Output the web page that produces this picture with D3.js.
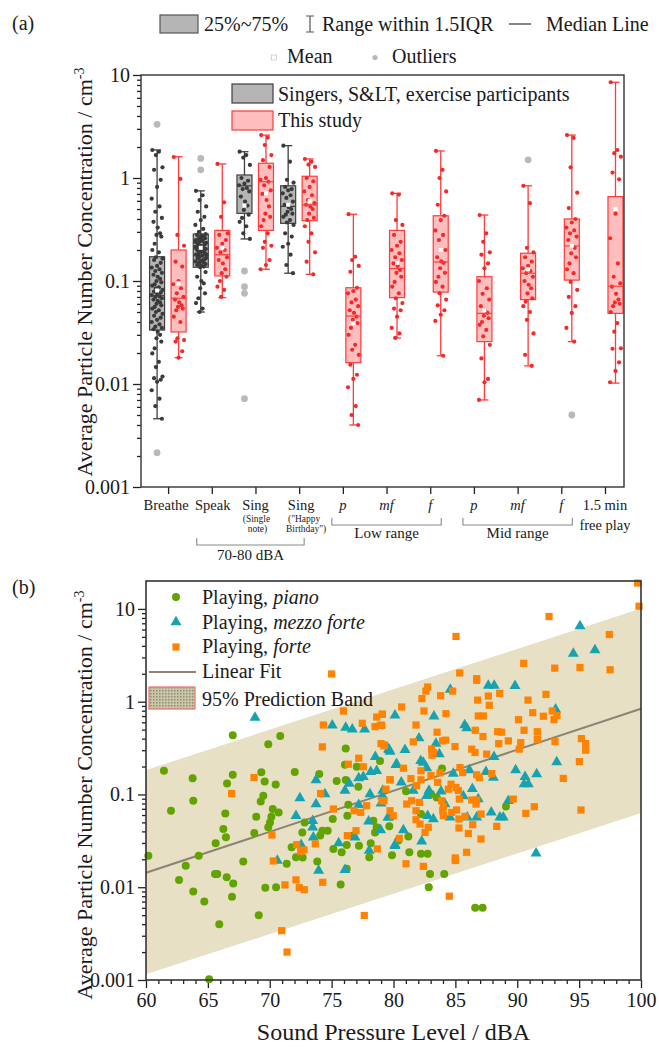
<!DOCTYPE html>
<html><head><meta charset="utf-8">
<script src="https://cdn.jsdelivr.net/npm/d3@7"></script>
<style>
body{margin:0;background:#fff}
svg{display:block}
text{font-family:"Liberation Serif","Times New Roman",serif;fill:#1a1a1a}
</style>
</head><body>
<svg id="c" width="659" height="1049"></svg>
<script>
// ---------------- DATA: panel (a) ----------------
const catLabels = ["Breathe","Speak","Sing","Sing","p","mf","f","p","mf","f","1.5 min"];
const catSub1 = ["","","(Single","(\"Happy","","","","","","","free play"];
const catSub2 = ["","","note)","Birthday\")","","","","","","",""];
const groupLabels = ["70-80 dBA","Low range","Mid range"];
const groupFrom = [2,5,8];
const groupTo = [4,7,10];
const yTicksA = [0.001,0.01,0.1,1,10];
const yTickLabelsA = ["0.001","0.01","0.1","1","10"];

// grey series (Singers, S&LT, exercise participants) – categories 1..4
const greyLow  = [0.0046,0.05,0.256,0.119];
const greyQ1   = [0.0334,0.136,0.454,0.363];
const greyMed  = [0.072,0.205,0.84,0.53];
const greyQ3   = [0.172,0.286,1.07,0.84];
const greyHigh = [1.87,0.75,1.8,2.06];
const greyMean = [0.081,0.21,0.54,0.55];
// red series (This study) – categories 1..11
const redLow  = [0.018,0.069,0.13,0.116,0.004,0.028,0.0188,0.007,0.015,0.0258,0.0102];
const redQ1   = [0.032,0.112,0.31,0.385,0.0161,0.069,0.078,0.0258,0.066,0.102,0.0485];
const redMed  = [0.068,0.18,0.92,0.547,0.0457,0.132,0.153,0.0485,0.119,0.219,0.089];
const redQ3   = [0.2,0.31,1.39,1.04,0.086,0.31,0.43,0.11,0.186,0.40,0.66];
const redHigh = [1.61,1.37,2.61,1.53,0.445,0.71,1.83,0.437,0.84,2.61,8.5];
const redMean = [0.095,0.21,0.71,0.6,0.039,0.15,0.2,0.052,0.13,0.22,0.5];

const outlierCat = [1,1,2,2,3,3,3,3,9,10];
const outlierVal = [3.32,0.00215,1.55,1.2,0.125,0.088,0.076,0.0072,1.5,0.005];

const breatheGrey = [1.87,1.8,1.67,1.27,1.2,0.96,0.82,0.63,0.53,0.47,0.41,0.375,0.33,0.29,0.28,0.27,0.23,0.2,0.19,0.17,0.165,0.16,0.15,0.14,0.135,0.13,0.125,0.12,0.115,0.11,0.105,0.1,0.097,0.093,0.09,0.087,0.085,0.082,0.079,0.077,0.075,0.073,0.071,0.07,0.068,0.066,0.064,0.062,0.06,0.058,0.056,0.054,0.052,0.05,0.048,0.046,0.044,0.042,0.04,0.038,0.036,0.035,0.034,0.0322,0.03,0.0278,0.0258,0.0222,0.0198,0.0164,0.0146,0.0118,0.0114,0.011,0.0105,0.0087,0.0072,0.0061,0.0046];
const speakGrey = [0.75,0.68,0.61,0.53,0.47,0.42,0.39,0.35,0.32,0.3,0.285,0.28,0.275,0.27,0.265,0.26,0.255,0.25,0.245,0.24,0.235,0.23,0.225,0.22,0.215,0.21,0.207,0.205,0.2,0.197,0.193,0.19,0.186,0.183,0.18,0.176,0.172,0.168,0.165,0.161,0.158,0.155,0.152,0.149,0.146,0.143,0.14,0.138,0.136,0.23,0.22,0.21,0.2,0.19,0.18,0.17,0.26,0.25,0.24,0.16,0.15,0.122,0.11,0.1,0.095,0.085,0.076,0.068,0.061,0.054,0.05];
const singGrey = [1.8,1.67,1.58,1.34,1.0,0.94,0.88,0.85,0.8,0.78,0.74,0.66,0.59,0.54,0.49,0.44,0.41,0.375,0.34,0.29,0.256];
const bdayGrey = [2.06,1.44,0.96,0.9,0.82,0.78,0.76,0.71,0.68,0.64,0.59,0.55,0.52,0.5,0.47,0.45,0.44,0.42,0.39,0.37,0.35,0.29,0.27,0.23,0.215,0.18,0.143,0.119];

const breatheRed = [1.6,0.98,0.28,0.22,0.154,0.138,0.1,0.093,0.085,0.076,0.07,0.066,0.062,0.058,0.056,0.054,0.052,0.045,0.04,0.0278,0.0267,0.0258,0.0208,0.018];
const speakRed = [1.37,0.58,0.42,0.29,0.28,0.25,0.23,0.21,0.2,0.19,0.17,0.16,0.148,0.13,0.119,0.11,0.1,0.088,0.082,0.07];
const singRed = [2.61,2.47,2.09,1.67,1.49,1.28,1.0,0.96,0.92,0.85,0.76,0.7,0.61,0.53,0.45,0.42,0.39,0.34,0.29,0.24,0.22,0.21,0.16,0.143,0.13];
const bdayRed = [1.53,1.44,1.35,1.28,1.0,0.93,0.82,0.74,0.68,0.61,0.57,0.55,0.53,0.5,0.45,0.41,0.39,0.34,0.29,0.24,0.19,0.154,0.116];
const lowPRed = [0.445,0.172,0.16,0.14,0.123,0.086,0.08,0.076,0.066,0.062,0.057,0.052,0.049,0.045,0.042,0.039,0.035,0.03,0.024,0.0215,0.0192,0.0154,0.0123,0.0112,0.0093,0.0061,0.005,0.004];
const lowMfRed = [0.71,0.69,0.39,0.35,0.28,0.24,0.22,0.2,0.186,0.17,0.16,0.148,0.14,0.128,0.12,0.11,0.098,0.088,0.076,0.068,0.061,0.054,0.052,0.045,0.035,0.031,0.028];
const lowFRed = [1.83,1.2,1.0,0.74,0.55,0.43,0.39,0.31,0.28,0.25,0.2,0.17,0.155,0.15,0.133,0.12,0.11,0.098,0.088,0.076,0.066,0.058,0.052,0.047,0.041,0.0188];
const midPRed = [0.437,0.29,0.24,0.19,0.18,0.148,0.133,0.1,0.085,0.075,0.066,0.057,0.052,0.049,0.046,0.0435,0.04,0.0375,0.0335,0.029,0.024,0.0177,0.0112,0.0104,0.007];
const midMfRed = [0.84,0.57,0.21,0.19,0.17,0.154,0.14,0.133,0.125,0.119,0.11,0.1,0.092,0.085,0.076,0.068,0.063,0.057,0.05,0.042,0.031,0.0192,0.015];
const midFRed = [2.61,2.45,1.27,0.72,0.51,0.4,0.37,0.33,0.31,0.29,0.27,0.25,0.22,0.21,0.186,0.17,0.148,0.13,0.119,0.098,0.082,0.07,0.057,0.049,0.035,0.0258];
const freeRed = [8.5,1.87,1.74,1.61,1.13,0.97,0.45,0.26,0.148,0.11,0.095,0.088,0.075,0.066,0.062,0.06,0.057,0.05,0.039,0.0322,0.0222,0.022,0.0162,0.0134,0.0104];

// ---------------- DATA: panel (b) ----------------
const xTicksB = [60,65,70,75,80,85,90,95,100];
const yTicksB = [0.001,0.01,0.1,1,10];
const yTickLabelsB = ["0.001","0.01","0.1","1","10"];
const fitX = [60,100];
const fitY = [0.0143,0.84];
const bandLow = [0.00115,0.063];
const bandHigh = [0.183,10.1];

const pianoX = [60.19,61.45,62.02,62.67,63.21,63.77,63.82,63.82,64.26,64.71,65.63,65.58,65.76,65.92,66.25,66.41,66.46,66.52,66.55,66.95,67.01,67.05,67.01,67.86,68.75,68.91,69.11,69.27,69.32,69.48,69.59,69.64,69.88,69.88,70.02,70.13,70.24,70.48,70.51,70.72,70.85,71.37,71.77,72.02,72.12,72.63,72.82,72.66,73.84,74.0,74.08,74.25,74.68,75.09,75.14,75.41,75.73,75.81,76.14,76.14,76.22,76.22,76.27,76.35,76.75,77.16,77.21,78.04,78.16,78.37,78.51,78.64,78.91,79.66,79.88,77.03,76.08,81.01,83.92,83.03,83.49,82.22,81.2,80.39,81.28,82.22,82.76,82.95,84.1,82.85,86.6,87.2,89.09,65.1];
const pianoY = [0.0219,0.18,0.0668,0.012,0.017,0.15,0.0855,0.009,0.0219,0.007,0.0297,0.0139,0.0139,0.004,0.0425,0.0625,0.0345,0.0128,0.131,0.0079,0.163,0.011,0.435,0.0189,0.0385,0.0575,0.005,0.0841,0.174,0.0968,0.138,0.0099,0.348,0.0442,0.05,0.0575,0.0697,0.128,0.01,0.064,0.428,0.0179,0.0269,0.175,0.021,0.039,0.05,0.0209,0.0189,0.166,0.036,0.0407,0.0407,0.0544,0.0259,0.14,0.0107,0.0238,0.313,0.143,0.0158,0.0286,0.059,0.0775,0.036,0.121,0.028,0.021,0.0297,0.0521,0.039,0.0442,0.23,0.0453,0.0221,0.199,0.209,0.108,0.19,0.101,0.0929,0.0615,0.0353,0.0318,0.0238,0.0229,0.0229,0.0139,0.0139,0.01,0.006,0.006,0.0743,0.00102];

const mfX = [68.81,72.12,72.44,70.61,72.53,73.47,73.74,73.74,73.47,73.95,74.46,73.52,75.05,75.57,76.08,76.08,76.14,76.43,76.67,77.19,77.19,77.67,77.56,77.99,78.1,78.16,78.64,78.53,78.96,79.13,79.61,79.61,80.12,80.12,80.26,78.04,76.89,83.27,84.59,87.66,88.14,89.82,85.75,85.92,82.06,79.64,79.72,80.93,83.43,83.7,80.2,82.2,82.41,82.68,84.83,86.13,87.47,88.07,88.12,89.87,90.63,90.55,90.9,91.57,93.19,93.1,95.07,94.53,96.28,91.52,80.63,81.6,82.87,82.68,83.84,86.37,85.64,86.85,89.28,87.9,88.6,88.87,86.72,85.96,84.56,83.22,82.76,84.16,79.56,80.8,80.12,82.28,78.99,79.13];
const mfY = [0.673,0.059,0.0914,0.0194,0.0286,0.0442,0.0788,0.143,0.0521,0.0151,0.101,0.0345,0.557,0.03,0.0154,0.11,0.525,0.131,0.505,0.15,0.0775,0.505,0.155,0.0513,0.101,0.175,0.18,0.254,0.0414,0.11,0.308,0.0566,0.714,0.0286,0.212,0.0248,0.0345,0.697,1.35,1.49,1.49,1.48,0.561,0.518,0.404,0.303,0.29,0.303,0.353,0.272,0.209,0.23,0.221,0.192,0.168,0.183,0.175,0.152,0.254,0.183,0.155,0.129,0.129,0.166,0.223,0.829,6.52,3.31,3.6,0.0232,0.135,0.11,0.11,0.0968,0.108,0.115,0.0961,0.0892,0.0855,0.064,0.0566,0.0566,0.0566,0.0566,0.0566,0.0544,0.059,0.0788,0.0566,0.0414,0.028,0.0312,0.08,0.096];

const forteX = [66.92,68.73,70.18,70.29,71.23,72.12,72.39,72.79,72.18,72.5,72.77,70.96,73.68,74.11,74.25,74.33,74.28,75.14,75.95,76.27,76.35,76.81,76.97,77.19,77.35,77.48,77.56,77.83,78.51,78.93,78.64,79.09,79.23,79.72,79.07,78.69,77.64,71.4,75.0,
 99.73,99.84,92.57,85.05,97.44,97.5,90.52,93.03,95.07,85.35,86.72,86.72,82.76,82.62,84.78,83.81,82.3,88.58,87.66,86.8,87.74,90.87,92.32,80.66,82.46,84.24,86.85,87.26,91.25,92.11,92.83,93.21,92.97,90.1,79.1,79.05,81.82,83.52,86.61,88.42,88.74,90.55,91.62,91.62,87.23,81.6,79.26,83.97,84.21,84.97,86.32,86.59,88.5,89.28,90.16,90.28,93.05,95.18,95.53,95.53,95.02,83.08,83.22,83.11,87.53,80.8,79.72,81.41,82.22,83.03,83.76,85.37,85.59,86.72,86.93,87.94,93.72,81.87,84.65,85.05,85.24,86.32,86.72,86.67,89.68,85.32,84.03,83.98,84.7,85.1,85.29,85.78,86.4,87.07,88.34,90.69,91.38,95.15,86.05,87.07,85.29,85.91,84.99,84.99,82.41,81.01,84.51,81.82,82.14,82.55,82.81,80.47,79.98,79.72,81.82,84.03,83.89,84.43,83.57,81.47,81.07,82.09,78.99,79.39,79.23,82.22];
const forteY = [0.1025,0.152,0.0366,0.0192,0.0106,0.012,0.0099,0.0094,0.0288,0.0242,0.0252,0.0034,0.0293,0.1025,0.326,0.561,0.0113,0.0697,0.794,0.036,0.212,0.0668,0.0407,0.246,0.064,0.585,0.199,0.0756,0.538,0.557,0.684,0.732,0.334,0.144,0.0855,0.0259,0.00496,0.002,1.99,
 19.0,10.7,8.28,5.05,5.3,2.21,2.59,2.3,2.34,2.04,1.77,1.7,1.44,1.3,1.3,1.16,1.08,1.23,1.15,1.04,0.915,1.04,1.2,0.877,0.794,0.743,0.702,0.702,0.762,0.697,0.794,0.707,0.64,0.64,0.732,0.557,0.561,0.469,0.492,0.475,0.469,0.492,0.475,0.394,0.421,0.369,0.342,0.378,0.385,0.328,0.308,0.283,0.353,0.378,0.308,0.362,0.372,0.4,0.353,0.3,0.226,0.308,0.283,0.265,0.272,0.192,0.144,0.148,0.144,0.16,0.171,0.195,0.172,0.163,0.152,0.168,0.149,0.124,0.129,0.119,0.11,0.087,0.087,0.0788,0.0892,0.0892,0.0738,0.0668,0.064,0.068,0.0544,0.058,0.0472,0.0615,0.0453,0.0625,0.0738,0.068,0.038,0.0331,0.0435,0.0238,0.0207,0.0194,0.0168,0.0179,0.008,0.0534,0.048,0.039,0.0442,0.0336,0.059,0.0668,0.0668,0.059,0.0855,0.114,0.135,0.0855,0.0788,0.082,0.353,0.114,0.0855,0.18];

// ---------------- STYLE ----------------
const GREY_FILL="#b5b5b5", GREY_STROKE="#3f3f3f", GREY_DOT="#3a3a3a";
const RED_FILL="#ffbebe", RED_STROKE="#ff3b3b", RED_DOT="#f42a2a";
const OUT_FILL="#b9b9b9";
const C_PIANO="#62a300", C_MF="#17a2b0", C_FORTE="#ff8300";
const BAND_FILL="#e7e0c5", FIT_COL="#8a8472";
const jit = [-0.8,0.3,-0.2,0.9,-0.5,0.6,0.0,-0.9,0.4,-0.3,0.8,-0.6,0.1,0.5,-0.1,0.7,-0.4];

const svg = d3.select("#c");

// ================= PANEL (a) =================
const A = {l:141, r:624, t:75, b:487};
const ax = d3.scaleLinear().domain([0.38, 11.435]).range([A.l, A.r]);
const ay = d3.scaleLog().domain([0.001, 10]).range([A.b, A.t]);
const gA = svg.append("g");

function minorLog(lo, hi){const m=[];for(let e=lo;e<hi;e++){for(let k=2;k<=9;k++)m.push(k*Math.pow(10,e));}return m;}

// y axis (a)
gA.append("g").attr("transform",`translate(${A.l},0)`)
  .call(d3.axisLeft(ay).tickValues(minorLog(-3,1)).tickFormat("").tickSize(4))
  .call(g=>g.select(".domain").remove());
gA.append("g").attr("transform",`translate(${A.l},0)`)
  .call(d3.axisLeft(ay).tickValues(yTicksA).tickFormat((d,i)=>yTickLabelsA[i]).tickSize(8).tickPadding(3))
  .call(g=>g.select(".domain").remove())
  .call(g=>g.selectAll("text").style("font-size","20px"));
// x axis (a)
gA.append("g").attr("transform",`translate(0,${A.b})`)
  .call(d3.axisBottom(ax).tickValues(d3.range(1,12)).tickFormat("").tickSize(7))
  .call(g=>g.select(".domain").remove());
gA.selectAll(".tick line").attr("stroke","#222").attr("stroke-width",1.3);

const GOFF=-11, ROFF=10.5, BW=15, CAP=8;
function drawBox(g, cx, lo, q1, med, q3, hi, mean, fill, stroke){
  g.append("line").attr("x1",cx).attr("x2",cx).attr("y1",ay(hi)).attr("y2",ay(q3)).attr("stroke",stroke).attr("stroke-width",1.3);
  g.append("line").attr("x1",cx).attr("x2",cx).attr("y1",ay(q1)).attr("y2",ay(lo)).attr("stroke",stroke).attr("stroke-width",1.3);
  g.append("line").attr("x1",cx-CAP/2).attr("x2",cx+CAP/2).attr("y1",ay(hi)).attr("y2",ay(hi)).attr("stroke",stroke).attr("stroke-width",1.3);
  g.append("line").attr("x1",cx-CAP/2).attr("x2",cx+CAP/2).attr("y1",ay(lo)).attr("y2",ay(lo)).attr("stroke",stroke).attr("stroke-width",1.3);
  g.append("rect").attr("x",cx-BW/2).attr("width",BW).attr("y",ay(q3)).attr("height",ay(q1)-ay(q3))
    .attr("fill",fill).attr("stroke",stroke).attr("stroke-width",1.2);
}
function drawDots(g, cx, vals, col){
  g.selectAll(null).data(vals).enter().append("circle")
    .attr("cx",(d,i)=>cx+jit[i%jit.length]*6).attr("cy",d=>ay(d)).attr("r",2.1).attr("fill",col);
}
function drawMedMean(g,cx,med,mean,stroke){
  g.append("line").attr("x1",cx-BW/2).attr("x2",cx+BW/2).attr("y1",ay(med)).attr("y2",ay(med)).attr("stroke",stroke).attr("stroke-width",1.2);
  g.append("rect").attr("x",cx-2).attr("y",ay(mean)-2).attr("width",4).attr("height",4).attr("fill","#fff");
}
const greyDotsAll = [breatheGrey,speakGrey,singGrey,bdayGrey];
const redDotsAll = [breatheRed,speakRed,singRed,bdayRed,lowPRed,lowMfRed,lowFRed,midPRed,midMfRed,midFRed,freeRed];
const gBoxes = gA.append("g");
greyLow.forEach((_,i)=>{
  const cx = ax(i+1)+GOFF;
  drawBox(gBoxes,cx,greyLow[i],greyQ1[i],greyMed[i],greyQ3[i],greyHigh[i],greyMean[i],GREY_FILL,GREY_STROKE);
  drawDots(gBoxes,cx,greyDotsAll[i],GREY_DOT);
  drawMedMean(gBoxes,cx,greyMed[i],greyMean[i],GREY_STROKE);
});
redLow.forEach((_,i)=>{
  const cx = ax(i+1)+ROFF;
  drawBox(gBoxes,cx,redLow[i],redQ1[i],redMed[i],redQ3[i],redHigh[i],redMean[i],RED_FILL,RED_STROKE);
  drawDots(gBoxes,cx,redDotsAll[i],RED_DOT);
  drawMedMean(gBoxes,cx,redMed[i],redMean[i],RED_STROKE);
});
// outliers
const outOff = [GOFF,GOFF,GOFF,GOFF,GOFF,GOFF,GOFF,GOFF,ROFF,ROFF];
gA.selectAll(null).data(outlierVal).enter().append("circle")
  .attr("cx",(d,i)=>ax(outlierCat[i])+outOff[i]).attr("cy",d=>ay(d)).attr("r",3.4).attr("fill",OUT_FILL);

// frame (a)
gA.append("rect").attr("x",A.l).attr("y",A.t).attr("width",A.r-A.l).attr("height",A.b-A.t)
  .attr("fill","none").attr("stroke","#333").attr("stroke-width",1.4);

// inner legend (a)
gA.append("rect").attr("x",232).attr("y",84).attr("width",41).attr("height",19).attr("fill",GREY_FILL).attr("stroke",GREY_STROKE).attr("stroke-width",1.2);
gA.append("text").attr("x",278).attr("y",101).style("font-size","20px").text("Singers, S&LT, exercise participants");
gA.append("rect").attr("x",232).attr("y",111).attr("width",41).attr("height",19).attr("fill",RED_FILL).attr("stroke",RED_STROKE).attr("stroke-width",1.2);
gA.append("text").attr("x",278).attr("y",127).style("font-size","20px").text("This study");

// x category labels (a)
catLabels.forEach((t,i)=>{
  const x = ax(i+1);
  const it = (i>=4 && i<=9);
  gA.append("text").attr("x",x+(i===3?2:(i===0?-2:(i===1?1:0)))).attr("y",510).attr("text-anchor","middle")
    .style("font-size","14.5px").style("font-style",it?"italic":"normal").text(t);
  if(catSub1[i]){
    if(i===10){
      gA.append("text").attr("x",x).attr("y",530).attr("text-anchor","middle").style("font-size","14.5px").text(catSub1[i]);
    } else {
      gA.append("text").attr("x",x+(i===3?5:1)).attr("y",522).attr("text-anchor","middle").style("font-size","9.5px").text(catSub1[i]);
      gA.append("text").attr("x",x+(i===3?7:2)).attr("y",532).attr("text-anchor","middle").style("font-size","9.5px").text(catSub2[i]);
    }
  }
});
// group brackets
groupLabels.forEach((t,k)=>{
  const x1 = ax(groupFrom[k])-(k===0?15:11), x2 = ax(groupTo[k])+(k===0?5:11);
  const yb = k===0?545:525, yt = k===0?538:518;
  gA.append("path").attr("d",`M${x1},${yt}V${yb}H${x2}V${yt}`).attr("fill","none").attr("stroke","#8a8a8a").attr("stroke-width",1.1);
  gA.append("text").attr("x",(x1+x2)/2).attr("y",k===0?560:538).attr("text-anchor","middle").style("font-size","15px").text(t);
});

// y titles
function yTitle(cy){
  const t = svg.append("text").attr("transform",`translate(92,${cy}) rotate(-90)`).attr("text-anchor","middle").style("font-size","22px");
  t.append("tspan").text("Average Particle Number Concentration / cm");
  t.append("tspan").attr("dy",-8).style("font-size","14px").text("-3");
}
yTitle(272);

// top legend (a)
svg.append("text").attr("x",12).attr("y",30).style("font-size","20px").text("(a)");
svg.append("rect").attr("x",160).attr("y",15).attr("width",38).attr("height",18).attr("fill",GREY_FILL).attr("stroke","#555").attr("stroke-width",1.2);
svg.append("text").attr("x",204).attr("y",31).style("font-size","20px").text("25%~75%");
svg.append("path").attr("d","M306,16H314M310,16V32M306,32H314").attr("stroke","#555").attr("stroke-width",1.2).attr("fill","none");
svg.append("text").attr("x",322).attr("y",31).style("font-size","20px").text("Range within 1.5IQR");
svg.append("line").attr("x1",509).attr("x2",531).attr("y1",24).attr("y2",24).attr("stroke","#444").attr("stroke-width",1.3);
svg.append("text").attr("x",546).attr("y",31).style("font-size","20px").text("Median Line");
svg.append("rect").attr("x",271.5).attr("y",55).attr("width",5).attr("height",5).attr("fill","#fff").attr("stroke","#c8c8c8").attr("stroke-width",0.8);
svg.append("text").attr("x",287).attr("y",63).style("font-size","20px").text("Mean");
svg.append("circle").attr("cx",375).attr("cy",57.5).attr("r",2.6).attr("fill",OUT_FILL);
svg.append("text").attr("x",392).attr("y",63).style("font-size","20px").text("Outliers");

// ================= PANEL (b) =================
const B = {l:146, r:641, t:581, b:980};
const bx = d3.scaleLinear().domain([60,100]).range([B.l,B.r]);
const by = d3.scaleLog().domain([0.001,20]).range([B.b,B.t]);
const gB = svg.append("g");

const bandData = fitX.map((x,i)=>({x, lo:bandLow[i], hi:bandHigh[i]}));
gB.append("path").datum(bandData)
  .attr("d", d3.area().x(d=>bx(d.x)).y0(d=>by(d.lo)).y1(d=>by(d.hi)))
  .attr("fill",BAND_FILL);
gB.append("path").datum(fitX.map((x,i)=>({x,y:fitY[i]})))
  .attr("d", d3.line().x(d=>bx(d.x)).y(d=>by(d.y)))
  .attr("stroke",FIT_COL).attr("stroke-width",2).attr("fill","none");

gB.append("g").attr("transform",`translate(${B.l},0)`)
  .call(d3.axisLeft(by).tickValues(minorLog(-3,1)).tickFormat("").tickSize(4))
  .call(g=>g.select(".domain").remove());
gB.append("g").attr("transform",`translate(${B.l},0)`)
  .call(d3.axisLeft(by).tickValues(yTicksB).tickFormat((d,i)=>yTickLabelsB[i]).tickSize(8).tickPadding(3))
  .call(g=>g.select(".domain").remove())
  .call(g=>g.selectAll("text").style("font-size","20px"));
gB.append("g").attr("transform",`translate(0,${B.b})`)
  .call(d3.axisBottom(bx).tickValues(d3.range(61,100).filter(v=>v%5!==0)).tickFormat("").tickSize(4))
  .call(g=>g.select(".domain").remove());
gB.append("g").attr("transform",`translate(0,${B.b})`)
  .call(d3.axisBottom(bx).tickValues(xTicksB).tickSize(8).tickPadding(5))
  .call(g=>g.select(".domain").remove())
  .call(g=>g.selectAll("text").style("font-size","20px"));
gB.selectAll(".tick line").attr("stroke","#222").attr("stroke-width",1.3);

const gP = gB.append("g");
gP.selectAll(null).data(pianoX).enter().append("circle")
  .attr("cx",d=>bx(d)).attr("cy",(d,i)=>by(pianoY[i])).attr("r",4).attr("fill",C_PIANO);
gP.selectAll(null).data(mfX).enter().append("path")
  .attr("d",d3.symbol(d3.symbolTriangle).size(52))
  .attr("transform",(d,i)=>`translate(${bx(d)},${by(mfY[i])})`).attr("fill",C_MF);
gP.selectAll(null).data(forteX).enter().append("rect")
  .attr("x",d=>bx(d)-3.6).attr("y",(d,i)=>by(forteY[i])-3.6).attr("width",7.2).attr("height",7.2).attr("fill",C_FORTE);

gB.append("rect").attr("x",B.l).attr("y",B.t).attr("width",B.r-B.l).attr("height",B.b-B.t)
  .attr("fill","none").attr("stroke","#333").attr("stroke-width",1.6);

const defs = svg.append("defs");
const pat = defs.append("pattern").attr("id","dots").attr("width",3).attr("height",3).attr("patternUnits","userSpaceOnUse");
pat.append("rect").attr("width",3).attr("height",3).attr("fill","#c9c5a6");
pat.append("rect").attr("width",1.5).attr("height",1.5).attr("fill","#8e8e78");
gB.append("circle").attr("cx",176).attr("cy",597).attr("r",4).attr("fill",C_PIANO);
const t1 = gB.append("text").attr("x",202).attr("y",604).style("font-size","20px");
t1.append("tspan").text("Playing, "); t1.append("tspan").style("font-style","italic").text("piano");
gB.append("path").attr("d",d3.symbol(d3.symbolTriangle).size(52)).attr("transform","translate(176,622)").attr("fill",C_MF);
const t2 = gB.append("text").attr("x",202).attr("y",629).style("font-size","20px");
t2.append("tspan").text("Playing, "); t2.append("tspan").style("font-style","italic").text("mezzo forte");
gB.append("rect").attr("x",172.4).attr("y",643.4).attr("width",7.2).attr("height",7.2).attr("fill",C_FORTE);
const t3 = gB.append("text").attr("x",202).attr("y",653).style("font-size","20px");
t3.append("tspan").text("Playing, "); t3.append("tspan").style("font-style","italic").text("forte");
gB.append("line").attr("x1",149).attr("x2",196).attr("y1",672).attr("y2",672).attr("stroke",FIT_COL).attr("stroke-width",2);
gB.append("text").attr("x",202).attr("y",678).style("font-size","20px").text("Linear Fit");
gB.append("rect").attr("x",149).attr("y",687).attr("width",46).attr("height",22).attr("fill","url(#dots)").attr("stroke","#f07a7a").attr("stroke-width",1.3);
gB.append("text").attr("x",202).attr("y",706).style("font-size","20px").text("95% Prediction Band");

svg.append("text").attr("x",12).attr("y",594).style("font-size","20px").text("(b)");
yTitle(795);
svg.append("text").attr("x",(B.l+B.r)/2).attr("y",1040).attr("text-anchor","middle").style("font-size","24px").text("Sound Pressure Level / dBA");
</script>
</body></html>
